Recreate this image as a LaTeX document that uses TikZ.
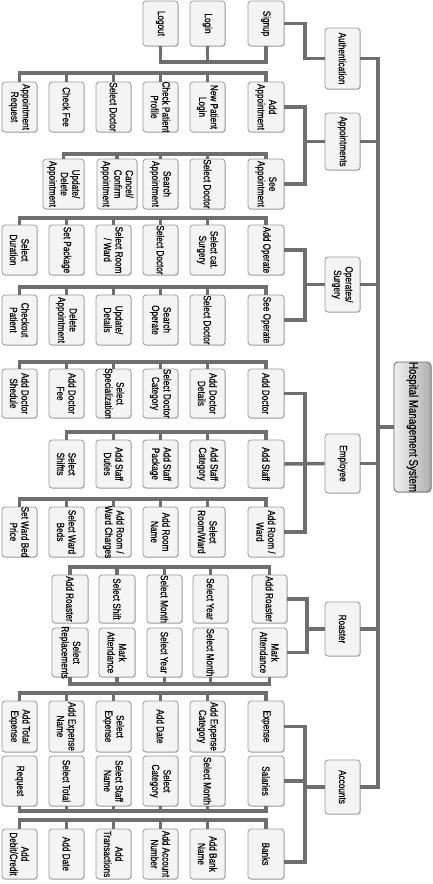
\documentclass[tikz,border=0pt]{standalone}
\usepackage{fontspec}
\setmainfont{Liberation Sans}[FakeStretch=0.78,FakeBold=0.4]
\usetikzlibrary{shadows}
\definecolor{lnc}{HTML}{6E6E6E}
\definecolor{bxd}{HTML}{9A9A9A}
\definecolor{bxf}{HTML}{F4F4F4}
\tikzset{
 bx/.style={draw=bxd, line width=0.8pt, rounded corners=3pt, fill=bxf, inner sep=0pt,
   drop shadow={shadow xshift=0.8pt, shadow yshift=-0.8pt, fill=black!40, opacity=0.5}},
 txt/.style={rotate=-90, align=center, inner sep=0pt, font=\fontsize{10.5}{11.5}\selectfont},
 ln/.style={draw=lnc, line width=3.5pt},
 hmsbox/.style={draw=gray!80!black, line width=0.8pt, rounded corners=4pt, left color=gray!12, right color=gray!62, inner sep=0pt,
   drop shadow={shadow xshift=0.8pt, shadow yshift=-0.8pt, fill=black!40, opacity=0.5}},
}
\newcommand\bx[6]{%
 \node[bx, minimum width=#4pt, minimum height=#5pt] (#1) at (#2,#3) {};
 \node[txt] (#1-t) at (#1.center) {#6};}
\begin{document}
\begin{tikzpicture}[x=1pt,y=-1pt]
\useasboundingbox (0,0) rectangle (432,884);
% ---------- root and categories
\node[hmsbox, minimum width=37pt, minimum height=130pt] (hms) at (412.5,427) {};
\node[txt, font=\fontsize{12.5}{14}\selectfont] (hms-t) at (hms.center) {Hospital Management System};
\bx{auth}{342.5}{58.5}{35}{61}{Authentication}
\bx{appt}{342.5}{141.5}{35}{57}{Appointments}
\bx{oper}{342.5}{284.5}{35}{55}{Operates/\\Surgery}
\bx{emp}{342.5}{463.5}{35}{59}{Employee}
\bx{roast}{342.5}{629}{35}{54}{Roaster}
\bx{acc}{342.5}{787}{35}{54}{Accounts}
\coordinate (T) at (378,0);
\coordinate (S) at (305,0);
\coordinate (SR) at (307,0);
% ---------- authentication
\bx{signup}{266}{23.5}{36}{45}{Signup}
\bx{login}{207.5}{23.5}{35}{45}{Login}
\bx{logout}{160.5}{23.5}{35}{45}{Logout}
% ---------- appointments
\bx{apA1}{19.5}{107}{35}{50}{Appointment\\Request}
\bx{apA2}{66.5}{107}{35}{50}{Check Fee}
\bx{apA3}{113.5}{107}{35}{50}{Select Doctor}
\bx{apA4}{160.5}{107}{35}{50}{Check Patient\\Profile}
\bx{apA5}{207.5}{107}{35}{50}{New Patient\\Login}
\bx{apA6}{266}{107}{36}{50}{Add\\Appointment}
\bx{apB1}{63.5}{184}{41}{50}{Update/\\Delete\\Appointment}
\bx{apB2}{117}{184}{40}{50}{Cancel/\\Confirm\\Appointment}
\bx{apB3}{160.5}{184}{35}{50}{Search\\Appointment}
\bx{apB4}{207.5}{184}{35}{50}{Select Doctor}
\bx{apB5}{266}{184}{36}{50}{See\\Appointment}
% ---------- operates
\bx{opA1}{19.5}{250}{35}{50}{Select\\Duration}
\bx{opA2}{66.5}{250}{35}{50}{Set Package}
\bx{opA3}{113.5}{250}{35}{50}{Select Room\\/ Ward}
\bx{opA4}{160.5}{250}{35}{50}{Select Doctor}
\bx{opA5}{207.5}{250}{35}{50}{Select cat.\\Surgery}
\bx{opA6}{266}{250}{36}{50}{Add Operate}
\bx{opB1}{19.5}{320}{35}{50}{Checkout\\Patient}
\bx{opB2}{66.5}{320}{35}{50}{Delete\\Appointment}
\bx{opB3}{113.5}{320}{35}{50}{Update/\\Details}
\bx{opB4}{160.5}{320}{35}{50}{Search\\Operate}
\bx{opB5}{207.5}{320}{35}{50}{Select Doctor}
\bx{opB6}{266}{320}{36}{50}{See Operate}
% ---------- employee
\bx{emA1}{19.5}{393.5}{35}{49}{Add Doctor\\Shedule}
\bx{emA2}{66.5}{393.5}{35}{49}{Add Doctor\\Fee}
\bx{emA3}{113.5}{393.5}{35}{49}{Select\\Specialization}
\bx{emA4}{160.5}{393.5}{35}{49}{Select Doctor\\Category}
\bx{emA5}{207.5}{393.5}{35}{49}{Add Doctor\\Details}
\bx{emA6}{266}{393.5}{36}{49}{Add Doctor}
\bx{emB2}{66.5}{464}{35}{48}{Select\\Shiftts}
\bx{emB3}{113.5}{464}{35}{48}{Add Staff\\Duties}
\bx{emB4}{160.5}{464}{35}{48}{Add Staff\\Package}
\bx{emB5}{207.5}{464}{35}{48}{Add Staff\\Category}
\bx{emB6}{266}{464}{36}{48}{Add Staff}
\bx{emC1}{19.5}{532}{35}{50}{Set Ward Bed\\Price}
\bx{emC2}{66.5}{532}{35}{50}{Select Ward\\Beds}
\bx{emC3}{113.5}{532}{35}{50}{Add Room /\\Ward Charges}
\bx{emC4}{160.5}{532}{35}{50}{Add Room\\Name}
\bx{emC5}{207.5}{532}{35}{50}{Select\\Room/Ward}
\bx{emC6}{266}{532}{36}{50}{Add Room /\\Ward}
% ---------- roaster
\bx{roA1}{70}{599}{36}{48}{Add Roaster}
\bx{roA2}{117}{599}{36}{48}{Select Shift}
\bx{roA3}{164.5}{599}{35}{48}{Select Month}
\bx{roA4}{210.5}{599}{35}{48}{Select Year}
\bx{roA5}{269.5}{599}{35}{48}{Add Roaster}
\bx{roB1}{70}{652.5}{36}{49}{Select\\Replacements}
\bx{roB2}{117}{652.5}{36}{49}{Mark\\Attendance}
\bx{roB3}{164.5}{652.5}{35}{49}{Select Year}
\bx{roB4}{210.5}{652.5}{35}{49}{Select Month}
\bx{roB5}{269.5}{652.5}{35}{49}{Mark\\Attendance}
% ---------- accounts
\bx{acA1}{19.5}{726.5}{35}{51}{Add Total\\Expense}
\bx{acA2}{66.5}{726.5}{35}{51}{Add Expense\\Name}
\bx{acA3}{113.5}{726.5}{35}{51}{Select\\Expense}
\bx{acA4}{160.5}{726.5}{35}{51}{Add Date}
\bx{acA5}{207.5}{726.5}{35}{51}{Add Expense\\Category}
\bx{acA6}{266}{726.5}{36}{51}{Expense}
\bx{acB1}{19.5}{781}{35}{50}{Request}
\bx{acB2}{66.5}{781}{35}{50}{Select Total}
\bx{acB3}{113.5}{781}{35}{50}{Select Staff\\Name}
\bx{acB4}{160.5}{781}{35}{50}{Select\\Category}
\bx{acB5}{207.5}{781}{35}{50}{Select Month}
\bx{acB6}{266}{781}{36}{50}{Salaries}
\bx{acC1}{19.5}{854}{35}{50}{Add\\Debit/Credit}
\bx{acC2}{66.5}{854}{35}{50}{Add Date}
\bx{acC3}{113.5}{854}{35}{50}{Add\\Transactions}
\bx{acC4}{160.5}{854}{35}{50}{Add Account\\Number}
\bx{acC5}{207.5}{854}{35}{50}{Add Bank\\Name}
\bx{acC6}{266}{854}{36}{50}{Banks}
% ---------- bus coordinates
\coordinate (bAu) at (0,62);
\coordinate (bApA) at (0,73);
\coordinate (bApB) at (0,154);
\coordinate (bOpA) at (0,218);
\coordinate (bOpB) at (0,287);
\coordinate (bEmA) at (0,362);
\coordinate (bEmB) at (0,432);
\coordinate (bEmC) at (0,499);
\coordinate (bRoA) at (0,567);
\coordinate (bRoB) at (0,684);
\coordinate (bAcA) at (0,693);
\coordinate (bAcB) at (0,811);
\coordinate (bAcC) at (0,820);
% main trunk
\draw[ln] (auth.east) -- (auth.east -| T) -- (acc.east -| T) -- (acc.east);
\draw[ln] (appt.east) -- (appt.east -| T);
\draw[ln] (oper.east) -- (oper.east -| T);
\draw[ln] (emp.east) -- (emp.east -| T);
\draw[ln] (roast.east) -- (roast.east -| T);
\draw[ln] (hms.west) -- (hms.west -| T);
% authentication
\draw[ln] (signup.east) -- (signup.east -| S) -- (auth.west -| S) -- (auth.west);
\draw[ln] (logout.south) -- (logout.south |- bAu) -- (signup.south |- bAu) -- (signup.south);
\draw[ln] (login.south) -- (login.south |- bAu);
% appointments
\draw[ln] (apA6.east) -- (apA6.east -| S) -- (apB5.east -| S) -- (apB5.east);
\draw[ln] (appt.west) -- (appt.west -| S);
\draw[ln] (apA1.north) -- (apA1.north |- bApA) -- (apA6.north |- bApA) -- (apA6.north);
\foreach \n in {apA2,apA3,apA4,apA5} \draw[ln] (\n.north) -- (\n.north |- bApA);
\draw[ln] (apB1.north) -- (apB1.north |- bApB) -- (apB5.north |- bApB) -- (apB5.north);
\foreach \n in {apB2,apB3,apB4} \draw[ln] (\n.north) -- (\n.north |- bApB);
% operates
\draw[ln] (opA6.east) -- (opA6.east -| S) -- (opB6.east -| S) -- (opB6.east);
\draw[ln] (oper.west) -- (oper.west -| S);
\draw[ln] (opA1.north) -- (opA1.north |- bOpA) -- (opA6.north |- bOpA) -- (opA6.north);
\foreach \n in {opA2,opA3,opA4,opA5} \draw[ln] (\n.north) -- (\n.north |- bOpA);
\draw[ln] (opB1.north) -- (opB1.north |- bOpB) -- (opB6.north |- bOpB) -- (opB6.north);
\foreach \n in {opB2,opB3,opB4,opB5} \draw[ln] (\n.north) -- (\n.north |- bOpB);
% employee
\draw[ln] (emA6.east) -- (emA6.east -| S) -- (emC6.east -| S) -- (emC6.east);
\draw[ln] (emB6.east) -- (emp.west);
\draw[ln] (emA1.north) -- (emA1.north |- bEmA) -- (emA6.north |- bEmA) -- (emA6.north);
\foreach \n in {emA2,emA3,emA4,emA5} \draw[ln] (\n.north) -- (\n.north |- bEmA);
\draw[ln] (emB2.north) -- (emB2.north |- bEmB) -- (emB6.north |- bEmB) -- (emB6.north);
\foreach \n in {emB3,emB4,emB5} \draw[ln] (\n.north) -- (\n.north |- bEmB);
\draw[ln] (emC1.north) -- (emC1.north |- bEmC) -- (emC6.north |- bEmC) -- (emC6.north);
\foreach \n in {emC2,emC3,emC4,emC5} \draw[ln] (\n.north) -- (\n.north |- bEmC);
% roaster
\draw[ln] (roA5.east) -- (roA5.east -| SR) -- (roB5.east -| SR) -- (roB5.east);
\draw[ln] (roast.west) -- (roast.west -| SR);
\draw[ln] (roA1.north) -- (roA1.north |- bRoA) -- (roA5.north |- bRoA) -- (roA5.north);
\foreach \n in {roA2,roA3,roA4} \draw[ln] (\n.north) -- (\n.north |- bRoA);
\draw[ln] (roB1.south) -- (roB1.south |- bRoB) -- (roB5.south |- bRoB) -- (roB5.south);
\foreach \n in {roB2,roB3,roB4} \draw[ln] (\n.south) -- (\n.south |- bRoB);
% accounts
\coordinate (bankc) at ([yshift=-8pt]acC6.east);
\draw[ln] (acA6.east) -- (acA6.east -| S) -- (bankc -| S) -- (bankc);
\draw[ln] (acB6.east) -- (acB6.east -| S);
\draw[ln] (acc.west) -- (acc.west -| S);
\draw[ln] (acA1.north) -- (acA1.north |- bAcA) -- (acA6.north |- bAcA) -- (acA6.north);
\foreach \n in {acA2,acA3,acA4,acA5} \draw[ln] (\n.north) -- (\n.north |- bAcA);
\draw[ln] (acB1.south) -- (acB1.south |- bAcB) -- (acB6.south |- bAcB) -- (acB6.south);
\foreach \n in {acB2,acB3,acB4,acB5} \draw[ln] (\n.south) -- (\n.south |- bAcB);
\draw[ln] (acC1.north) -- (acC1.north |- bAcC) -- (acC6.north |- bAcC) -- (acC6.north);
\foreach \n in {acC2,acC3,acC4,acC5} \draw[ln] (\n.north) -- (\n.north |- bAcC);
\end{tikzpicture}
\end{document}
